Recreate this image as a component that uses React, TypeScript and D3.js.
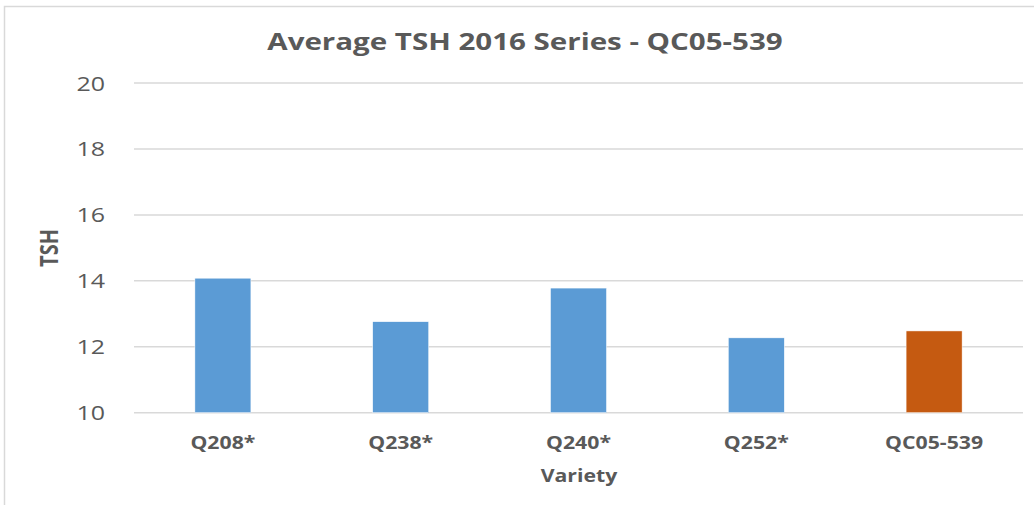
import * as d3 from 'd3';
import React from 'react';

const categories = ['Q208*', 'Q238*', 'Q240*', 'Q252*', 'QC05-539'];
const tshValues = [14.08, 12.76, 13.78, 12.27, 12.48];
const barColors = ['#5B9BD5', '#5B9BD5', '#5B9BD5', '#5B9BD5', '#C55A11'];
const yTicks = [10, 12, 14, 16, 18, 20];

const W = 1034;
const H = 505;
const plot = { left: 134, right: 1023, top: 83, bottom: 412.7 };
const textColor = '#595959';
const font = '"Open Sans", sans-serif';
const sx = 1.25; // the source image is stretched horizontally

const x = d3
  .scaleBand<string>()
  .domain(categories)
  .range([plot.left, plot.right])
  .paddingInner(0.685)
  .paddingOuter(0.3425);

const y = d3.scaleLinear().domain([10, 20]).range([plot.bottom, plot.top]);

const Label = ({ x, y, size, bold, anchor = 'middle', rotate = 0, scale = sx, children }: any) => (
  <text
    transform={`translate(${x},${y}) scale(${scale},1) rotate(${rotate})`}
    textAnchor={anchor}
    fontFamily={font}
    fontSize={size}
    fontWeight={bold ? 700 : 400}
    fill={textColor}
  >
    {children}
  </text>
);

export default function App() {
  return (
    <svg width={W} height={H} style={{ position: 'absolute', left: 0, top: 0, background: '#fff' }}>
      <path d={`M4.5,${H}V6.5H${W}`} fill="none" stroke="#d9d9d9" strokeWidth={1.5} />

      <Label x={525} y={50} size={24} bold scale={1.23}>Average TSH 2016 Series - QC05-539</Label>

      {yTicks.map((t) => (
        <g key={t}>
          <line x1={plot.left} x2={plot.right} y1={y(t)} y2={y(t)} stroke="#d9d9d9" strokeWidth={1.5} />
          <Label x={105} y={y(t) + 7.5} size={20} anchor="end">{t}</Label>
        </g>
      ))}

      {categories.map((c, i) => (
        <rect
          key={c}
          x={x(c)}
          y={y(tshValues[i])}
          width={x.bandwidth()}
          height={y(10) - y(tshValues[i])}
          fill={barColors[i]}
          stroke="#fff"
          strokeWidth={0.5}
        />
      ))}

      {categories.map((c) => (
        <Label key={c} x={x(c)! + x.bandwidth() / 2} y={449} size={17} bold>{c}</Label>
      ))}

      <Label x={579} y={482} size={17} bold>Variety</Label>
      <Label x={58} y={248} size={20} bold rotate={-90}>TSH</Label>
    </svg>
  );
}
